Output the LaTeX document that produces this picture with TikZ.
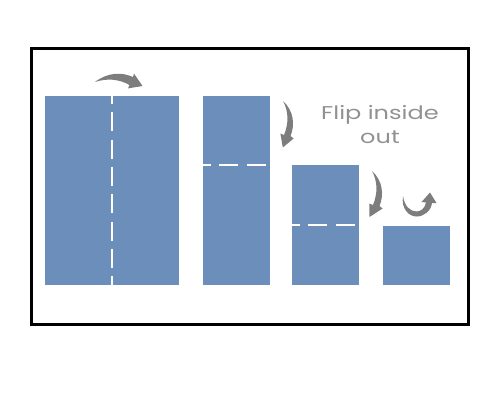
\documentclass[tikz,border=0pt]{standalone}
\usepackage{fontspec}
\newfontfamily\labelfont[FakeStretch=1.3]{Poppins}
\definecolor{panelblue}{RGB}{108,142,187}
\definecolor{arrowgray}{RGB}{125,125,125}
\definecolor{textgray}{RGB}{145,145,145}
\begin{document}
\begin{tikzpicture}[x=1pt,y=-1pt,
  panel/.style={fill=panelblue,draw=none,inner sep=0,outer sep=0},
  foldline/.style={draw=white,line width=2pt,dash pattern=on 19pt off 8.3pt},
  curvearrow/.style={fill=arrowgray,draw=none}]
\useasboundingbox (0,0) rectangle (500,400);
\node[draw,line width=3pt,inner sep=0,minimum width=437pt,minimum height=276pt] (frame) at (250,186.5) {};
% panels
\node[panel,minimum width=134.5pt,minimum height=188.5pt] (p1) at (111.75,190.25) {};
\node[panel,minimum width=66.5pt,minimum height=188.5pt] (p2) at (236.25,190.25) {};
\node[panel,minimum width=67pt,minimum height=119.5pt] (p3) at (325.5,224.75) {};
\node[panel,minimum width=67pt,minimum height=58.5pt] (p4) at (416.5,255.25) {};
% fold lines
\draw[foldline,dash phase=11pt] (p1.north -| 112,0) -- (p1.south -| 112,0);
\draw[foldline,dash phase=11pt] (p2.west |- 0,165) -- (p2.east |- 0,165);
\draw[foldline,dash phase=11pt] (p3.west |- 0,225) -- (p3.east |- 0,225);
% arrow 1
\path[curvearrow] (95,82) .. controls (108,72) and (122,72) .. (133,77)
  -- (134,73.6) -- (142.5,86) -- (128,88.4) -- (129.5,85)
  .. controls (119,79) and (107,78) .. cycle;
% arrow 2
\path[curvearrow] (283,101) .. controls (294,111) and (295,125) .. (290.5,136)
  -- (293.6,138.5) -- (282.8,147.5) -- (280.4,133.5) -- (284,135)
  .. controls (288.5,124) and (289,112) .. cycle;
% arrow 3
\begin{scope}[shift={(89,70)}]
\path[curvearrow] (283,101) .. controls (294,111) and (295,125) .. (290.5,136)
  -- (293.6,138.5) -- (280.5,147) -- (280.4,133.5) -- (284,135)
  .. controls (288.5,124) and (289,112) .. cycle;
\end{scope}
% arrow 4
\path[curvearrow] (403,196) .. controls (401,209) and (409,216.5) .. (416.5,216.5)
  .. controls (424,216.5) and (431,211) .. (432,203)
  -- (436.5,203) -- (430,192.5) -- (421.5,202) -- (426,202.5)
  .. controls (425,208) and (421,211.5) .. (416.5,211.5)
  .. controls (410,211.5) and (404.5,206) .. cycle;
% label
\node[inner sep=0,align=center,text=textgray,
  font=\labelfont\fontsize{18.5}{24}\selectfont] (lbl) at (380,124.5) {Flip inside\\out};
\end{tikzpicture}
\end{document}
